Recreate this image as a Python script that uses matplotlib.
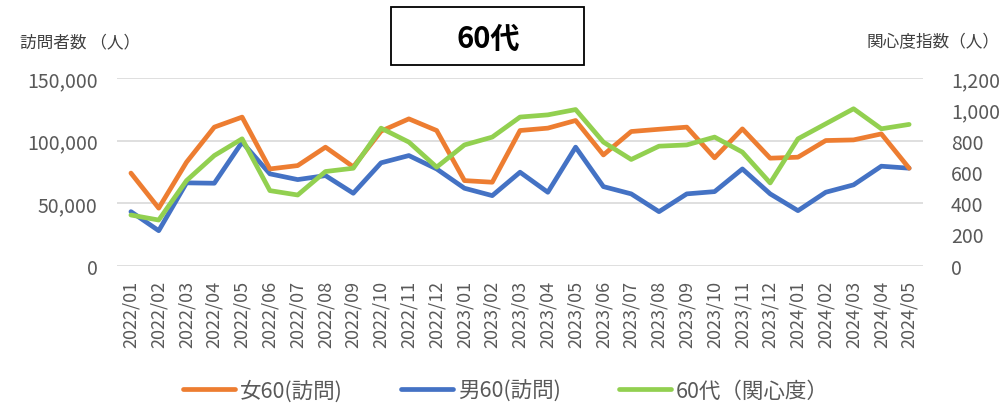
import matplotlib
matplotlib.use("Agg")
import matplotlib.pyplot as plt
from matplotlib.ticker import FuncFormatter

plt.rcParams['font.family'] = ['Noto Sans CJK JP', 'DejaVu Sans']

months = ["2022/01", "2022/02", "2022/03", "2022/04", "2022/05", "2022/06",
          "2022/07", "2022/08", "2022/09", "2022/10", "2022/11", "2022/12",
          "2023/01", "2023/02", "2023/03", "2023/04", "2023/05", "2023/06",
          "2023/07", "2023/08", "2023/09", "2023/10", "2023/11", "2023/12",
          "2024/01", "2024/02", "2024/03", "2024/04", "2024/05"]

# 訪問者数（人）
female60 = [74000, 46000, 82700, 110700, 118700, 77300, 80000, 94700, 79000,
            107500, 117300, 108000, 68000, 66700, 108000, 109900, 116000,
            88500, 107200, 109000, 110700, 86200, 109300, 85900, 86700,
            100000, 100500, 105300, 77900]
male60 = [43200, 28000, 66200, 65900, 98700, 73400, 68800, 72000, 57900,
          82200, 88000, 77300, 61900, 56000, 74700, 58700, 94700, 63200,
          57400, 43200, 57400, 59200, 77300, 57400, 44000, 58700, 64600,
          79500, 77900]
# 関心度指数
interest60 = [324, 292, 544, 704, 811, 480, 452, 602, 623, 879, 790, 630,
              772, 822, 950, 964, 998, 790, 679, 764, 772, 822, 726, 529,
              811, 907, 1003, 875, 903]

ORANGE = "#ED7D31"
BLUE = "#4472C4"
GREEN = "#92D050"
TEXT = "#595959"

fig = plt.figure(figsize=(10.02, 4.06), dpi=100)
ax = fig.add_axes([0.1168, 0.343, 0.8044, 0.4626])
ax2 = ax.twinx()

x = range(len(months))
style = dict(lw=3.4, solid_joinstyle="round", solid_capstyle="round")
l1, = ax.plot(x, female60, color=ORANGE, zorder=3, **style)
l2, = ax.plot(x, male60, color=BLUE, zorder=2, **style)
l3, = ax2.plot(x, interest60, color=GREEN, zorder=4, **style)

ax.set_xlim(-0.5, len(months) - 0.5)
ax.set_ylim(0, 150000)
ax2.set_ylim(0, 1200)
ax.set_yticks([0, 50000, 100000, 150000])
ax2.set_yticks(range(0, 1201, 200))
comma = FuncFormatter(lambda v, p: f"{int(v):,}")
ax.yaxis.set_major_formatter(comma)
ax2.yaxis.set_major_formatter(comma)

ax.grid(axis="y", color="#D9D9D9", lw=1.2)
ax.set_axisbelow(True)
for a in (ax, ax2):
    for s in a.spines.values():
        s.set_visible(False)
    a.tick_params(length=0, colors=TEXT, labelsize=14)

ax.set_xticks(list(x))
ax.set_xticklabels(months, rotation=90, fontsize=13)
ax.tick_params(axis="x", pad=10)
ax.tick_params(axis="y", pad=14)
ax2.tick_params(axis="y", pad=20)

fig.text(0.02, 0.895, "訪問者数 （人）", fontsize=12, color="#404040", va="center")
fig.text(0.998, 0.895, "関心度指数（人）", fontsize=12, color="#404040", va="center", ha="right")

# title in a fixed-size box
fig.patches.append(plt.Rectangle((0.3902, 0.837), 0.1926, 0.143, transform=fig.transFigure,
                                 fill=True, fc="white", ec="black", lw=1.3))
fig.text(0.4875, 0.905, "60代", fontsize=21, fontweight="bold", color="black",
         ha="center", va="center")

fig.legend([l1, l2, l3], ["女60(訪問)", "男60(訪問)", "60代（関心度）"],
           loc="center", bbox_to_anchor=(0.505, 0.035), ncol=3, frameon=False,
           fontsize=15.5, handlelength=2.4, handletextpad=0.25,
           columnspacing=2.7, labelcolor=TEXT)

fig.savefig("out.png", dpi=100)
